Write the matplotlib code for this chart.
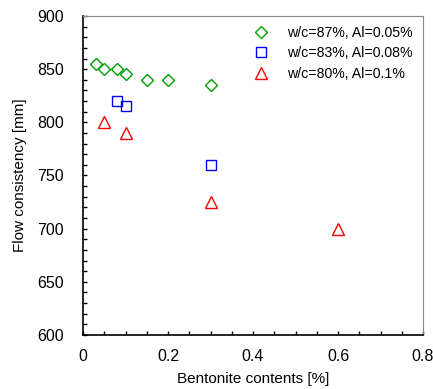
import matplotlib.pyplot as plt
from matplotlib.ticker import MultipleLocator

plt.rcParams['font.family'] = ['Liberation Sans', 'DejaVu Sans']

# w/c=87%, Al=0.05%
x1 = [0.03, 0.05, 0.08, 0.10, 0.15, 0.20, 0.30]
y1 = [855, 850, 850, 845, 840, 840, 835]
# w/c=83%, Al=0.08%
x2 = [0.08, 0.10, 0.30]
y2 = [820, 815, 760]
# w/c=80%, Al=0.1%
x3 = [0.05, 0.10, 0.30, 0.60]
y3 = [800, 790, 725, 700]

fig = plt.figure(figsize=(4.33, 3.89), dpi=100)
ax = fig.add_axes([83/433, 1 - 335/389, 340/433, 319/389])

ax.plot(x1, y1, 'D', ls='none', mfc='none', mec='#00a000', mew=1.0, ms=6.5,
        label='w/c=87%, Al=0.05%')
ax.plot(x2, y2, 's', ls='none', mfc='none', mec='#0000ff', mew=1.0, ms=7.5,
        label='w/c=83%, Al=0.08%')
ax.plot(x3, y3, '^', ls='none', mfc='none', mec='#ff0000', mew=1.0, ms=8,
        label='w/c=80%, Al=0.1%')

ax.set_xlim(0, 0.8)
ax.set_ylim(600, 900)
ax.xaxis.set_major_locator(MultipleLocator(0.2))
ax.xaxis.set_minor_locator(MultipleLocator(0.05))
ax.yaxis.set_major_locator(MultipleLocator(50))
ax.yaxis.set_minor_locator(MultipleLocator(10))
ax.xaxis.set_major_formatter(plt.FuncFormatter(lambda v, p: f'{v:g}'))

ax.tick_params(which='both', direction='in', length=3, width=1, labelsize=11.5,
               top=False, right=False)
ax.tick_params(axis='y', pad=14)
ax.tick_params(axis='x', pad=10)
for s in ['top', 'right']:
    ax.spines[s].set_color('#888888')
for s in ['left', 'bottom']:
    ax.spines[s].set_linewidth(1.2)

ax.set_xlabel('Bentonite contents [%]', fontsize=11, labelpad=6)
ax.set_ylabel('Flow consistency [mm]', fontsize=11, labelpad=7)

ax.legend(loc='upper right', frameon=False, fontsize=10.2, handletextpad=0.9,
          borderaxespad=0.3, labelspacing=0.45, borderpad=0.4)

fig.savefig('out.png', dpi=100)
